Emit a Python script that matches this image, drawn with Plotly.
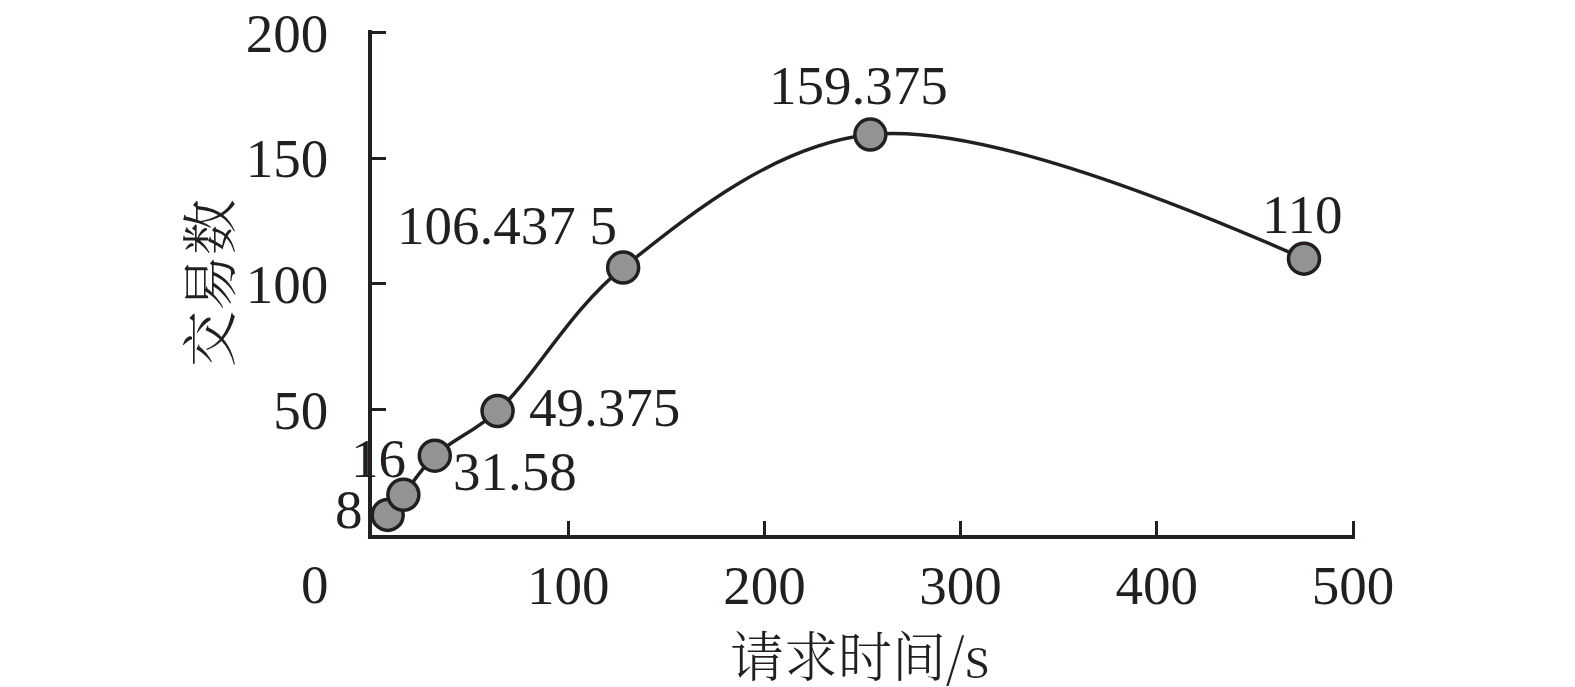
"""Transaction count vs request time (smoothed line with labelled points)."""

import plotly.graph_objects as go

# ---------------------------------------------------------------------------
# Data
# ---------------------------------------------------------------------------
request_time = [8, 16, 32, 64, 128, 254, 475]
tx_count = [8, 16, 31.58, 49.375, 106.4375, 159.375, 110]
point_labels = ["8", "16", "31.58", "49.375", "106.437 5", "159.375", "110"]

x_ticks = [100, 200, 300, 400, 500]
y_ticks = [50, 100, 150, 200]
x_title = "请求时间/s"
y_title = "交易数"

# label offsets from each marker, in pixels (dx, dy)
LABEL_OFFSETS = [(-39, 5), (-25, 36), (80, -16), (107, 3), (-116, 42), (-12, 49), (-2, 44)]

INK = "#231f20"
MARKER_FILL = "#939393"
FONT = "Liberation Serif, Times New Roman, serif"
CJK_FONT = "Noto Serif CJK SC, Noto Sans CJK SC, sans-serif"
FONT_SIZE = 55

# plot area in pixels; ranges run a hair past the last tick so the
# end ticks are not clipped away
L, R, T, B = 372, 220, 30, 152
W, H = 1575, 687
X_RANGE = [0, 501]
Y_RANGE = [0, 201]

fig = go.Figure()
fig.add_trace(
    go.Scatter(
        x=request_time,
        y=tx_count,
        mode="lines+markers",
        line=dict(color=INK, width=3.5, shape="spline", smoothing=1),
        marker=dict(size=31, color=MARKER_FILL, line=dict(color=INK, width=3.5)),
        showlegend=False,
        cliponaxis=False,
    )
)

for xv, yv, txt, (dx, dy) in zip(request_time, tx_count, point_labels, LABEL_OFFSETS):
    fig.add_annotation(
        x=xv, y=yv, text=txt, showarrow=False,
        xshift=dx, yshift=dy,
        font=dict(family=FONT, size=FONT_SIZE, color=INK),
    )

# shared origin label sitting below the corner
fig.add_annotation(
    x=0, y=0, text="0", showarrow=False, xshift=-57, yshift=-49,
    font=dict(family=FONT, size=FONT_SIZE, color=INK),
)

# axis titles, placed relative to the plot area
plot_w = W - L - R
plot_h = H - T - B
fig.add_annotation(
    xref="paper", yref="paper", xanchor="center", yanchor="middle",
    x=(860 - L) / plot_w, y=-(653 - (H - B)) / plot_h,
    text=x_title, showarrow=False,
    font=dict(family=CJK_FONT, size=54, color=INK, weight=300),
)
fig.add_annotation(
    xref="paper", yref="paper", xanchor="center", yanchor="middle",
    x=-(L - 206) / plot_w, y=((H - B) - 283) / plot_h,
    text=y_title, showarrow=False, textangle=-90,
    font=dict(family=CJK_FONT, size=56, color=INK, weight=300),
)

axis_common = dict(
    ticks="inside",
    ticklen=14,
    tickwidth=3,
    tickcolor=INK,
    showline=True,
    linecolor=INK,
    linewidth=3.5,
    showgrid=False,
    zeroline=False,
    automargin=False,
)

fig.update_layout(
    width=W,
    height=H,
    margin=dict(l=L, r=R, t=T, b=B),
    plot_bgcolor="white",
    paper_bgcolor="white",
    font=dict(family=FONT, size=FONT_SIZE, color=INK),
    xaxis=dict(range=X_RANGE, tickvals=x_ticks, ticklabelstandoff=-1, **axis_common),
    yaxis=dict(range=Y_RANGE, tickvals=y_ticks, ticklabelstandoff=29, **axis_common),
)

# drop the default page margin so the figure sits flush in the window
fig.write_html(
    "out.html",
    config={"displayModeBar": False},
    post_script="document.body.style.margin = '0';",
)
